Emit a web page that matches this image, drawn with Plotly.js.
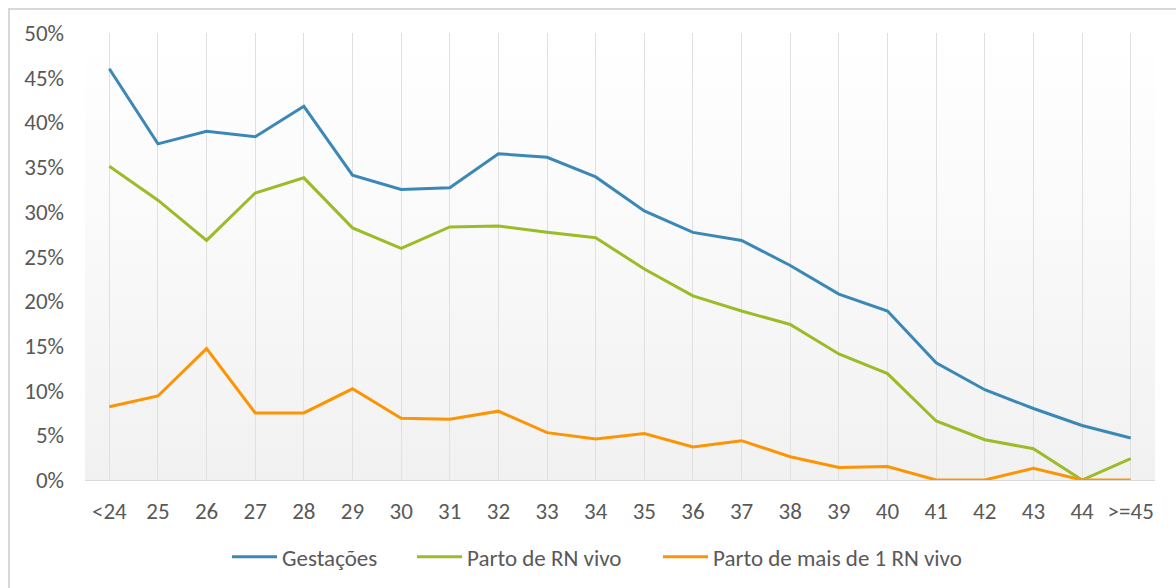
<!DOCTYPE html>
<html>
<head>
<meta charset="utf-8">
<script src="https://cdn.plot.ly/plotly-3.0.1.min.js"></script>
<style>
  html, body { margin:0; padding:0; background:#ffffff; }
  #wrap { position:relative; width:1176px; height:588px; overflow:hidden; }
  #frame { position:absolute; left:8px; top:8px; width:1200px; height:620px; border:2px solid #d9d9d9; box-sizing:border-box; }
  #bg { position:absolute; left:85px; top:33px; width:1070px; height:447px;
        background:linear-gradient(to bottom, #ffffff 0%, #fbfbfb 35%, #f1f1f1 100%); }
  #chart { position:absolute; left:0; top:0; width:1176px; height:588px; }
</style>
</head>
<body>
<div id="wrap">
  <div id="frame"></div>
  <div id="bg"></div>
  <div id="chart"></div>
</div>
<script>
const categories = ["<24","25","26","27","28","29","30","31","32","33","34","35","36","37","38","39","40","41","42","43","44",">=45"];
const gestacoes = [46.0,37.6,39.0,38.4,41.8,34.1,32.5,32.7,36.5,36.1,33.9,30.1,27.7,26.8,24.0,20.8,18.9,13.1,10.1,8.0,6.1,4.7];
const partoRNVivo = [35.1,31.3,26.8,32.1,33.8,28.2,25.9,28.3,28.4,27.7,27.1,23.6,20.6,18.9,17.4,14.1,11.9,6.6,4.5,3.5,0.0,2.4];
const partoMais1RN = [8.2,9.4,14.7,7.5,7.5,10.2,6.9,6.8,7.7,5.3,4.6,5.2,3.7,4.4,2.6,1.4,1.5,0.0,0.0,1.3,0.0,0.0];
const seriesNames = ["Gestações","Parto de RN vivo","Parto de mais de 1 RN vivo"];

const font = '"Carlito", "Liberation Sans", Arial, sans-serif';
const txt = '#595959';
const fs = 23;

function tr(name, vals, color, lg) {
  return {
    type:'scatter', mode:'lines', name:name, x:categories,
    y:vals.map(v => v/100),
    line:{color:color, width:3},
    legend:lg,
    hoverinfo:'x+y'
  };
}

const data = [
  tr(seriesNames[0], gestacoes, '#3b88b6', 'legend'),
  tr(seriesNames[1], partoRNVivo, '#9bbb28', 'legend2'),
  tr(seriesNames[2], partoMais1RN, '#fb9505', 'legend3')
];

function lg(px) {
  return {
    orientation:'h', xref:'container', yref:'container',
    x:px/1176, xanchor:'left', y:0.053, yanchor:'middle',
    font:{family:font, size:fs, color:txt},
    bgcolor:'rgba(0,0,0,0)', itemwidth:45
  };
}

const layout = {
  width:1176, height:588,
  margin:{l:85, r:21, t:33, b:108, pad:0},
  paper_bgcolor:'rgba(0,0,0,0)',
  plot_bgcolor:'rgba(0,0,0,0)',
  font:{family:font, size:fs, color:txt},
  showlegend:true,
  legend:lg(227),
  legend2:lg(412),
  legend3:lg(658),
  xaxis:{
    type:'category', range:[-0.5, 21.5],
    showgrid:true, gridcolor:'#e0e0e0', gridwidth:1,
    showline:true, linecolor:'#d9d9d9', linewidth:1,
    ticks:'', ticklabelstandoff:10,
    tickfont:{family:font, size:fs, color:txt},
    zeroline:false, fixedrange:true
  },
  yaxis:{
    range:[0, 0.5], dtick:0.05, tick0:0, tickformat:'.0%',
    showgrid:false, showline:false, zeroline:false,
    ticks:'', ticklabelstandoff:20,
    tickfont:{family:font, size:fs, color:txt},
    fixedrange:true
  }
};

Plotly.newPlot('chart', data, layout, {displayModeBar:false, staticPlot:true});
</script>
</body>
</html>
